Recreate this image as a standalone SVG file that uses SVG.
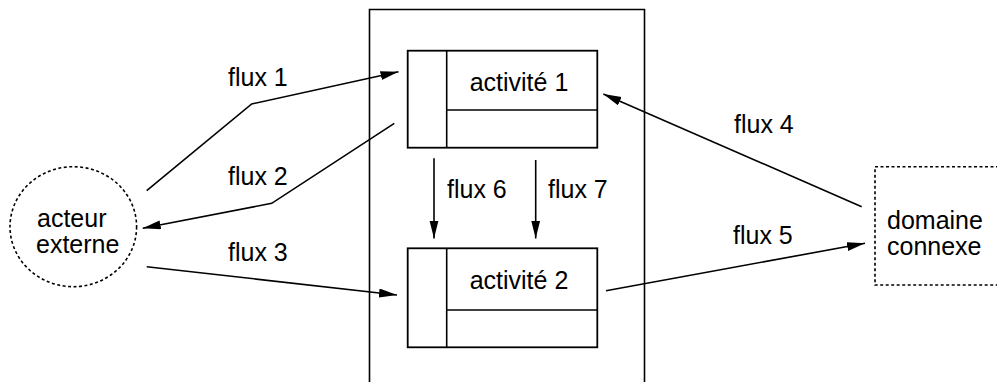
<svg xmlns="http://www.w3.org/2000/svg" width="997" height="382" viewBox="0 0 997 382">
<style>
.ln{fill:none;stroke:#000;stroke-width:1.6}
.box{fill:#fff;stroke:#000;stroke-width:1.8}
.dot{fill:#fff;stroke:#000;stroke-width:1.6;stroke-dasharray:3 2.5}
.t{font-family:"Liberation Sans",Arial,Helvetica,sans-serif;font-size:25px;fill:#000}
.c{text-anchor:middle}
</style>
<defs>
<marker id="ah" markerUnits="userSpaceOnUse" markerWidth="18" markerHeight="10" refX="18" refY="4.5" orient="auto">
<path d="M0,0 L18,4.5 L0,9 z" fill="#000"/>
</marker>
</defs>
<rect width="997" height="382" fill="#fff"/>
<g id="domaine-metier">
<path class="ln" d="M369.5,390 V9.5 H644.5 V390" stroke-width="1.8"/>
</g>
<g id="activite1">
<rect class="box" x="407.7" y="50.7" width="189.6" height="97"/>
<line class="ln" x1="446.7" y1="50.7" x2="446.7" y2="147.7" stroke-width="1.8"/>
<line class="ln" x1="446.7" y1="110" x2="597.3" y2="110" stroke-width="1.8"/>
<text class="t c" x="519" y="91">activité 1</text>
</g>
<g id="activite2">
<rect class="box" x="407.7" y="248.3" width="189.6" height="99"/>
<line class="ln" x1="446.7" y1="248.3" x2="446.7" y2="347.3" stroke-width="1.8"/>
<line class="ln" x1="446.7" y1="310" x2="597.3" y2="310" stroke-width="1.8"/>
<text class="t c" x="519" y="289">activité 2</text>
</g>
<g id="acteur-externe">
<ellipse class="dot" cx="73.3" cy="226.7" rx="63.3" ry="60"/>
<text class="t" x="37" y="227">acteur</text>
<text class="t" x="36" y="253">externe</text>
</g>
<g id="domaine-connexe">
<path class="dot" d="M1010,166.7 H875 V285 H1010"/>
<text class="t" x="887" y="228.5">domaine</text>
<text class="t" x="887" y="255">connexe</text>
</g>
<g id="connectors">
<polyline class="ln" points="146.7,190.7 251.7,104 398.5,71.7" marker-end="url(#ah)"/>
<polyline class="ln" points="394.3,123.3 271.7,203.3 142.7,228.3" marker-end="url(#ah)"/>
<line class="ln" x1="146.7" y1="266.7" x2="397" y2="295" marker-end="url(#ah)"/>
<line class="ln" x1="861.7" y1="206.7" x2="603.3" y2="94" marker-end="url(#ah)"/>
<line class="ln" x1="606" y1="290.7" x2="865" y2="243.3" marker-end="url(#ah)"/>
<line class="ln" x1="434" y1="158.3" x2="434" y2="238.5" marker-end="url(#ah)"/>
<line class="ln" x1="535.7" y1="160" x2="535.7" y2="238.5" marker-end="url(#ah)"/>
<text class="t" x="228" y="86">flux 1</text>
<text class="t" x="228" y="185">flux 2</text>
<text class="t" x="228" y="261">flux 3</text>
<text class="t" x="734" y="133">flux 4</text>
<text class="t" x="733" y="244">flux 5</text>
<text class="t" x="447" y="198">flux 6</text>
<text class="t" x="548" y="198">flux 7</text>
</g>
</svg>
